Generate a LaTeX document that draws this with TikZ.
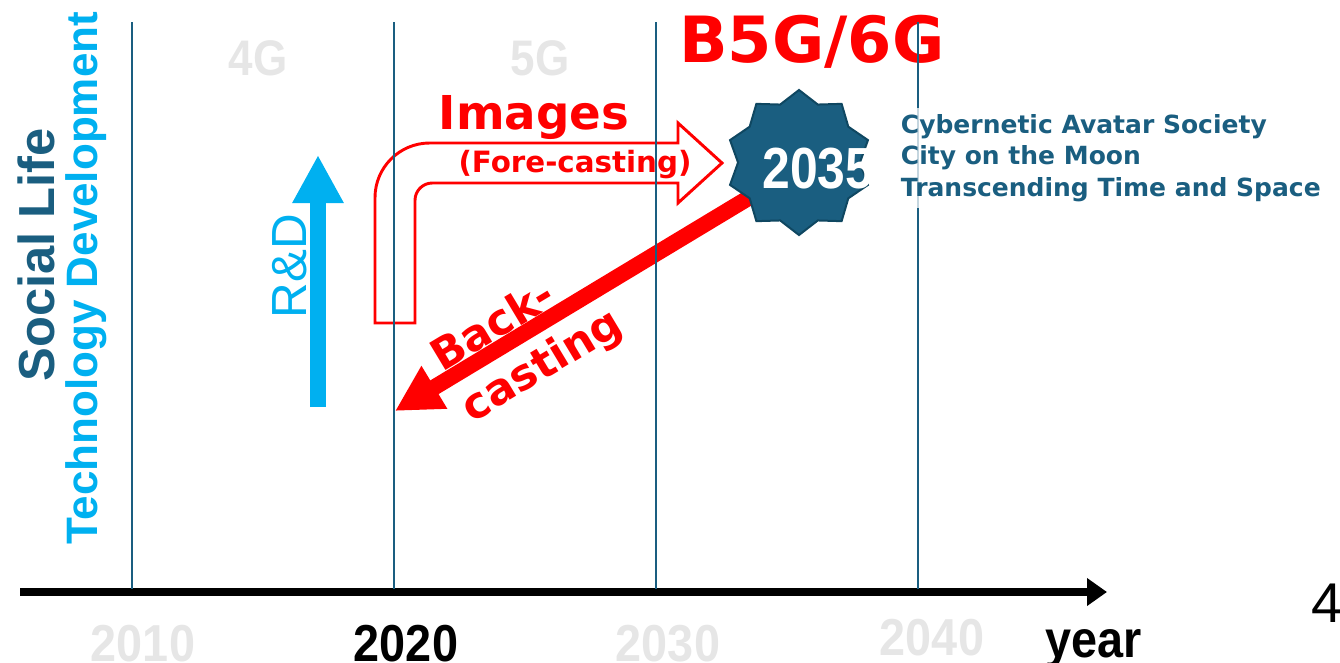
\documentclass[tikz,border=0pt]{standalone}
\usepackage{fontspec}
\setmainfont{Liberation Sans}
\newfontfamily\dvsans{DejaVu Sans}
\usetikzlibrary{arrows.meta,shapes.geometric}
\definecolor{navy}{HTML}{1A5E80}
\definecolor{stardark}{HTML}{0F4761}
\definecolor{cyanb}{HTML}{00B0F0}
\definecolor{lgray}{HTML}{E6E6E6}
\definecolor{redc}{HTML}{FF0000}
\newcommand{\setfs}[2]{\fontsize{#1}{#2}\selectfont}
\tikzset{
  vline/.style={navy, line width=1.5pt},
  yearlbl/.style={text=lgray, anchor=base, inner sep=0pt, xscale=0.9, font=\bfseries\setfs{39pt}{45pt}},
  genlbl/.style={text=lgray, anchor=base, inner sep=0pt, xscale=0.88, font=\bfseries\setfs{37.5pt}{42pt}},
  redtxt/.style={text=redc, font=\dvsans\bfseries},
  hollowarrow/.style={draw=redc, line width=2.2pt, fill=white, line join=miter},
  backarrow/.style={draw=redc, line width=12pt, -{Triangle[length=34.5pt, width=35pt]}},
  rdarrow/.style={draw=cyanb, line width=12pt, -{Triangle[length=36pt, width=36pt]}},
  axisarrow/.style={draw=black, line width=6pt, -{Triangle[length=15pt, width=20pt]}},
  starbox/.style={star, star points=10, star point ratio=1.19, minimum size=108.75pt, inner sep=0pt, fill=navy, draw=stardark, line width=1.5pt},
}
\begin{document}
\begin{tikzpicture}[x=0.75pt, y=-0.75pt]
\useasboundingbox (0,0) rectangle (1340,662);

% left axis titles
\node[rotate=90, anchor=base, inner sep=0pt, text=navy, font=\bfseries\setfs{38pt}{42pt}] (social) at (55,255) {Social Life};
\node[rotate=90, anchor=base, inner sep=0pt, text=cyanb, font=\bfseries\setfs{33pt}{38pt}] (techdev) at (97,278) {Technology Development};

% generation labels
\node[genlbl] (g4) at (258,75) {4G};
\node[genlbl] (g5) at (540,75) {5G};
\node[redtxt, anchor=base, inner sep=0pt, font=\dvsans\bfseries\setfs{47.8pt}{52pt}] (b5g) at (812,62) {B5G/6G};

% year labels
\node[yearlbl] (y2010) at (143,661) {2010};
\node[yearlbl, text=black] (y2020) at (406,661) {2020};
\node[yearlbl] (y2030) at (668,661) {2030};
\node[yearlbl] (y2040) at (932,655) {2040};
\node[yearlbl, text=black] (year) at (1094,657) {year};
\node[anchor=base west, inner sep=0pt, font=\setfs{42pt}{46pt}] (pnum) at (1311,622) {4};

% axis
\coordinate (axstart) at (20,592);
\coordinate (axend) at (1107,592);
\draw[axisarrow] (axstart) -- (axend);

% R&D arrow
\coordinate (rdbot) at (318,407);
\coordinate (rdtop) at (318,155);
\draw[rdarrow] (rdbot) -- (rdtop);
\node[rotate=90, inner sep=0pt, text=cyanb, font=\setfs{37pt}{40pt}] (rd) at (290,266) {R\&D};

% hollow fore-casting arrow
\draw[hollowarrow] (375,323) [rounded corners=41pt] -- (375,143) [sharp corners] -- (678,143) -- (678,123) -- (722,163) -- (678,203) -- (678,183) [rounded corners=13pt] -- (415,183) [sharp corners] -- (415,323) -- cycle;
\node[redtxt, anchor=base, inner sep=0pt, font=\dvsans\bfseries\setfs{35pt}{40pt}] (images) at (534,129) {Images};
\node[redtxt, anchor=base, inner sep=0pt, font=\dvsans\bfseries\setfs{22pt}{25pt}] (fore) at (575,172) {(Fore-casting)};

% star and back-casting arrow
\coordinate (backtip) at (395,411);
\coordinate (backstart) at (770,185);
\draw[backarrow] (backstart) -- (backtip);
\node[starbox] (star) at (799,162.5) {};
\node[inner sep=0pt, text=white, xscale=0.86, font=\bfseries\setfs{43.5pt}{46pt}] (y2035) at (818,169) {2035};
\node[redtxt, rotate=31, align=left, inner sep=0pt, font=\dvsans\bfseries\setfs{32.5pt}{44pt}] (back) at (528,342) {Back-\\casting};

% vertical grid lines
\foreach \xx/\nm in {132/a,394/b,656/c,918/d} {
  \coordinate (top\nm) at (\xx,22);
  \coordinate (bot\nm) at (\xx,589);
  \draw[vline] (top\nm) -- (bot\nm);
}

% vision text
\node[anchor=west, align=left, text=navy, fill=white, fill opacity=0.75, text opacity=1, inner sep=5pt, font=\dvsans\bfseries\setfs{18.75pt}{23.6pt}] (vision) at (894,158) {Cybernetic Avatar Society\\City on the Moon\\Transcending Time and Space};
\end{tikzpicture}
\end{document}
